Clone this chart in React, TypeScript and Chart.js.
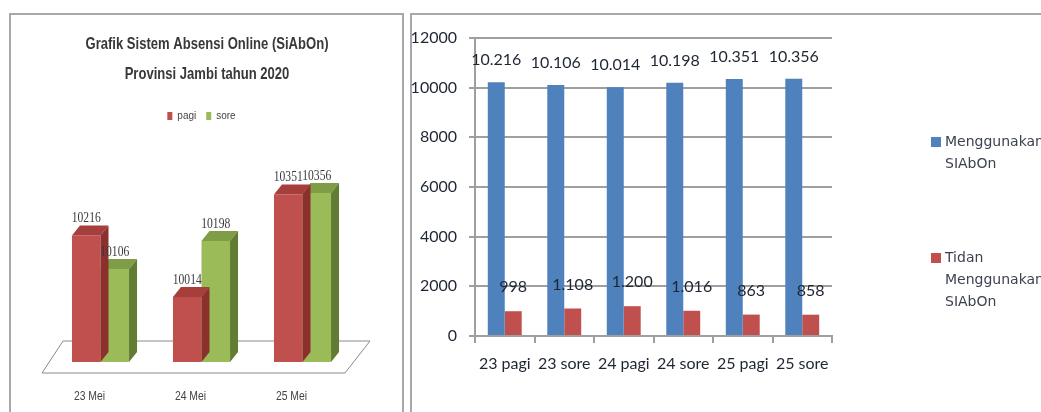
import React, { useEffect, useRef } from 'react';
import { Chart, registerables } from 'chart.js';

Chart.register(...registerables);

// ---------- data: left (3D) chart ----------
const leftTitle = ['Grafik Sistem Absensi Online (SiAbOn)', 'Provinsi Jambi tahun 2020'];
const leftCategories = ['23 Mei', '24 Mei', '25 Mei'];
const leftSeriesNames = ['pagi', 'sore'];
const pagiValues = [10216, 10014, 10351];
const soreValues = [10106, 10198, 10356];

// ---------- data: right chart ----------
const rightCategories = ['23 pagi', '23 sore', '24 pagi', '24 sore', '25 pagi', '25 sore'];
const rightSeriesNames = ['Menggunakan SIAbOn', 'Tidan Menggunakan SIAbOn'];
const usingValues = [10216, 10106, 10014, 10198, 10351, 10356];
const notUsingValues = [998, 1108, 1200, 1016, 863, 858];
const rightAxisMin = 0;
const rightAxisMax = 12000;
const rightAxisStep = 2000;

// ---------- styles ----------
const RED = '#C0504D';
const GREEN = '#9BBB59';
const BLUE = '#4F81BD';
const RED_TOP = '#a63f3c';
const RED_SIDE = '#8c302e';
const GREEN_TOP = '#7f9c47';
const GREEN_SIDE = '#627c34';
const SANS = '"Liberation Sans", Arial, sans-serif';
const SERIF = '"Liberation Serif", "Times New Roman", serif';
const TEXT = '#1f2633';
const GRID = '#9f9f9f';

function fmtId(n: number): string {
  return String(Math.round(n)).replace(/\B(?=(\d{3})+(?!\d))/g, '.');
}

function drawCondensed(ctx: any, text: string, x: number, y: number, font: string, sx: number) {
  ctx.save();
  ctx.translate(x, y);
  ctx.scale(sx, 1);
  ctx.font = font;
  ctx.textAlign = 'center';
  ctx.textBaseline = 'middle';
  ctx.fillText(text, 0, 0);
  ctx.restore();
}

const DX = 8;
const DY = 10;

const bar3dPlugin = {
  id: 'bar3d',
  beforeDatasetsDraw(chart: any) {
    const { ctx, chartArea } = chart;
    const base = chartArea.bottom;
    const l = chartArea.left;
    const r = chartArea.right;
    ctx.save();
    ctx.beginPath();
    ctx.moveTo(l - 8, base + 11);
    ctx.lineTo(r - 8, base + 11);
    ctx.lineTo(r + 17, base - 21);
    ctx.lineTo(l + 13, base - 21);
    ctx.closePath();
    ctx.fillStyle = '#ffffff';
    ctx.fill();
    ctx.strokeStyle = '#8a8a8a';
    ctx.lineWidth = 1;
    ctx.stroke();
    ctx.restore();
  },
  afterDatasetDraw(chart: any, args: any) {
    const { ctx, chartArea } = chart;
    const meta = args.meta;
    const topColor = args.index === 0 ? RED_TOP : GREEN_TOP;
    const sideColor = args.index === 0 ? RED_SIDE : GREEN_SIDE;
    ctx.save();
    meta.data.forEach((el: any) => {
      const p = el.getProps(['x', 'y', 'base', 'width'], true);
      const x0 = p.x - p.width / 2;
      const x1 = p.x + p.width / 2;
      const top = p.y;
      const base = Math.min(p.base, chartArea.bottom);
      // top face
      ctx.beginPath();
      ctx.moveTo(x0, top);
      ctx.lineTo(x1, top);
      ctx.lineTo(x1 + DX, top - DY);
      ctx.lineTo(x0 + DX, top - DY);
      ctx.closePath();
      ctx.fillStyle = topColor;
      ctx.fill();
      // side face
      ctx.beginPath();
      ctx.moveTo(x1, top);
      ctx.lineTo(x1 + DX, top - DY);
      ctx.lineTo(x1 + DX, base - DY);
      ctx.lineTo(x1, base);
      ctx.closePath();
      ctx.fillStyle = sideColor;
      ctx.fill();
    });
    ctx.restore();
  },
  afterDatasetsDraw(chart: any) {
    const { ctx, chartArea, scales } = chart;
    ctx.save();
    // value labels
    ctx.fillStyle = '#3a3a3a';
    chart.data.datasets.forEach((ds: any, i: number) => {
      const meta = chart.getDatasetMeta(i);
      meta.data.forEach((el: any, j: number) => {
        drawCondensed(ctx, String(ds.data[j]), el.x, el.y - DY - 7, '14px ' + SERIF, 0.83);
      });
    });
    // category labels
    ctx.fillStyle = '#444444';
    chart.data.labels.forEach((lab: string, i: number) => {
      const x = scales.x.getPixelForValue(i) - 11;
      drawCondensed(ctx, lab, x, chartArea.bottom + 34, '13px ' + SANS, 0.8);
    });
    // title
    ctx.fillStyle = '#383838';
    const tFont = 'bold 17px ' + SANS;
    ctx.font = tFont;
    const w0 = ctx.measureText(leftTitle[0]).width;
    const sx = 243 / w0;
    const cx = chart.width / 2;
    leftTitle.forEach((line: string, k: number) => {
      drawCondensed(ctx, line, cx, 29 + k * 30, tFont, sx);
    });
    ctx.restore();
  },
};

const rightLabelsPlugin = {
  id: 'rightLabels',
  afterDatasetsDraw(chart: any) {
    const { ctx } = chart;
    ctx.save();
    ctx.font = '16px Lato, "Open Sans", sans-serif';
    ctx.fillStyle = TEXT;
    ctx.textAlign = 'center';
    ctx.textBaseline = 'middle';
    chart.data.datasets.forEach((ds: any, i: number) => {
      const meta = chart.getDatasetMeta(i);
      const off = i === 0 ? 22 : 24;
      meta.data.forEach((el: any, j: number) => {
        ctx.fillText(fmtId(ds.data[j]), el.x, el.y - off);
      });
    });
    ctx.restore();
  },
};

const rightLegendPlugin = {
  id: 'rightLegend',
  afterDraw(chart: any) {
    const { ctx, chartArea } = chart;
    const boxX = chartArea.right + 99;
    const textX = chartArea.right + 113;
    const itemTops = [chartArea.top + 99, chartArea.top + 215];
    ctx.save();
    ctx.font = '14px "DejaVu Sans", sans-serif';
    ctx.textAlign = 'left';
    ctx.textBaseline = 'middle';
    chart.data.datasets.forEach((ds: any, i: number) => {
      const y = itemTops[i];
      ctx.fillStyle = ds.backgroundColor;
      ctx.fillRect(boxX, y, 10, 10);
      ctx.fillStyle = '#3d4250';
      const words = String(ds.label).split(' ');
      words.forEach((w: string, k: number) => {
        ctx.fillText(w, textX, y + 5 + k * 22);
      });
    });
    ctx.restore();
  },
};

export default function App() {
  const leftRef = useRef<HTMLCanvasElement>(null);
  const rightRef = useRef<HTMLCanvasElement>(null);

  useEffect(() => {
    const left = new Chart(leftRef.current as HTMLCanvasElement, {
      type: 'bar',
      data: {
        labels: leftCategories,
        datasets: [
          { label: leftSeriesNames[0], data: pagiValues, backgroundColor: RED, borderWidth: 0 },
          { label: leftSeriesNames[1], data: soreValues, backgroundColor: GREEN, borderWidth: 0 },
        ],
      },
      options: {
        animation: false,
        responsive: false,
        maintainAspectRatio: false,
        devicePixelRatio: 1,
        layout: { padding: { left: 39, right: 50, top: 86, bottom: 50 } },
        datasets: { bar: { categoryPercentage: 0.565, barPercentage: 1 } },
        plugins: {
          tooltip: { enabled: false },
          title: { display: false },
          legend: {
            display: true,
            position: 'top',
            labels: {
              boxWidth: 5,
              boxHeight: 8,
              padding: 10,
              color: '#444444',
              font: { family: SANS, size: 10 },
            },
          },
        },
        scales: {
          x: { display: false },
          y: {
            display: false,
            min: 9800,
            max: 10560,
          },
        },
      },
      plugins: [bar3dPlugin],
    } as any);

    const right = new Chart(rightRef.current as HTMLCanvasElement, {
      type: 'bar',
      data: {
        labels: rightCategories,
        datasets: [
          { label: rightSeriesNames[0], data: usingValues, backgroundColor: BLUE, borderWidth: 0 },
          { label: rightSeriesNames[1], data: notUsingValues, backgroundColor: RED, borderWidth: 0 },
        ],
      },
      options: {
        animation: false,
        responsive: false,
        maintainAspectRatio: false,
        devicePixelRatio: 1,
        layout: { padding: { left: 0, right: 209, top: 23, bottom: 0 } },
        datasets: { bar: { categoryPercentage: 0.57, barPercentage: 1 } },
        plugins: {
          tooltip: { enabled: false },
          legend: { display: false },
          title: { display: false },
        },
        scales: {
          x: {
            grid: {
              offset: true,
              drawOnChartArea: false,
              drawTicks: true,
              tickLength: 7,
              color: GRID,
              lineWidth: 2,
            },
            border: { display: true, color: GRID, width: 2 },
            ticks: {
              color: TEXT,
              font: { family: 'Lato, "Open Sans", sans-serif', size: 16 },
              padding: 11,
              maxRotation: 0,
              autoSkip: false,
            },
            afterFit: (s: any) => { s.height = 76; },
          },
          y: {
            min: rightAxisMin,
            max: rightAxisMax,
            grid: {
              color: GRID,
              lineWidth: 2,
              drawTicks: true,
              tickLength: 6,
            },
            border: { display: true, color: GRID, width: 2 },
            ticks: {
              stepSize: rightAxisStep,
              color: TEXT,
              font: { family: 'Lato, "Open Sans", sans-serif', size: 16 },
              padding: 12,
              callback: (v: any) => String(v),
            },
            afterFit: (s: any) => { s.width = 63; },
          },
        },
      },
      plugins: [rightLabelsPlugin, rightLegendPlugin],
    } as any);

    return () => {
      left.destroy();
      right.destroy();
    };
  }, []);

  return (
    <div
      style={{
        position: 'absolute',
        left: 0,
        top: 0,
        width: 1041,
        height: 412,
        background: '#ffffff',
        overflow: 'hidden',
      }}
    >
      <div
        style={{
          position: 'absolute',
          left: 9,
          top: 13,
          width: 391,
          height: 420,
          border: '2px solid #a8a8a8',
        }}
      />
      <div
        style={{
          position: 'absolute',
          left: 410,
          top: 13,
          width: 700,
          height: 420,
          border: '2px solid #a8a8a8',
        }}
      />
      <canvas
        ref={leftRef}
        width={392}
        height={397}
        style={{ position: 'absolute', left: 11, top: 15, width: 392, height: 397 }}
      />
      <canvas
        ref={rightRef}
        width={629}
        height={397}
        style={{ position: 'absolute', left: 412, top: 15, width: 629, height: 397 }}
      />
    </div>
  );
}
